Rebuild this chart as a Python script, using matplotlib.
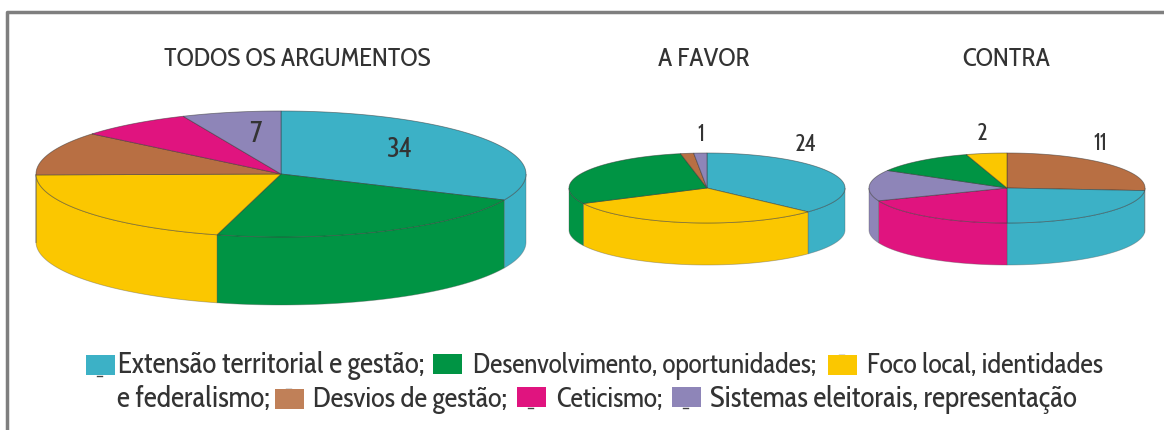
import numpy as np
import matplotlib
matplotlib.use("Agg")
import matplotlib.pyplot as plt
from matplotlib.patches import Polygon, Rectangle

plt.rcParams["font.family"] = ["Cabin Condensed", "Archivo Narrow", "Liberation Sans", "DejaVu Sans"]

teal = "#3CB1C6"
green = "#009444"
yellow = "#FBC700"
brown = "#B86F43"
magenta = "#E0147F"
purple = "#8E85B8"

# values clockwise from the top
todos_vals = [34, 24, 22, 12, 8, 7]
todos_cols = [teal, green, yellow, brown, magenta, purple]
favor_vals = [24, 20, 19, 1, 1]
favor_cols = [teal, yellow, green, brown, purple]
contra_vals = [11, 10, 8, 6, 5, 2]
contra_cols = [brown, teal, magenta, purple, green, yellow]

titles = ["TODOS OS ARGUMENTOS", "A FAVOR", "CONTRA"]
text_col = "#333333"


def pie3d(ax, vals, cols, cx, cy, rx, ry, depth):
    edges = np.cumsum([0] + vals) / sum(vals) * 2 * np.pi
    # side wall first, only the front half shows
    for i, c in enumerate(cols):
        a0 = max(edges[i], np.pi / 2)
        a1 = min(edges[i + 1], 3 * np.pi / 2)
        if a1 <= a0:
            continue
        t = np.linspace(a0, a1, 80)
        x = cx + rx * np.sin(t)
        y = cy - ry * np.cos(t)
        pts = np.r_[np.c_[x, y], np.c_[x[::-1], y[::-1] + depth]]
        ax.add_patch(Polygon(pts, closed=True, fc=c, ec="#55555566", lw=0.6, zorder=2))
    for i, c in enumerate(cols):
        t = np.linspace(edges[i], edges[i + 1], 120)
        x = cx + rx * np.sin(t)
        y = cy - ry * np.cos(t)
        pts = np.r_[[[cx, cy]], np.c_[x, y]]
        ax.add_patch(Polygon(pts, closed=True, fc=c, ec="#33333388", lw=0.6, zorder=3))


fig = plt.figure(figsize=(11.64, 4.30), dpi=100)
ax = fig.add_axes([0, 0, 1, 1])
ax.set_xlim(0, 1164)
ax.set_ylim(430, 0)
ax.axis("off")

# frame: only left and top
ax.plot([7, 7, 1164], [430, 11.5, 11.5], color="#7F7F7F", lw=2.5, zorder=1)

pie3d(ax, todos_vals, todos_cols, 281, 174, 245, 63, 68)
pie3d(ax, favor_vals, favor_cols, 707, 188, 138, 35, 42)
pie3d(ax, contra_vals, contra_cols, 1007, 188, 138, 35, 42)

for s, x in zip(titles, [297, 704, 1006]):
    ax.text(x, 59, s, ha="center", va="center", fontsize=19, color=text_col)

for s, x, y, fs in [("34", 399, 150, 20), ("7", 255, 134, 21), ("24", 806, 145, 17),
                    ("1", 701, 135, 17), ("2", 982, 134, 17), ("11", 1100, 144, 17)]:
    ax.text(x, y, s, ha="center", va="center", fontsize=fs, color=text_col, zorder=5)

# swatch x, swatch y, colour, text x, text y, label, font size, notch side
legend = [
    (86, 355, teal, 118, 366, "Extensão territorial e gestão;", 21, "bottom"),
    (433, 354, green, 473, 366, "Desenvolvimento, oportunidades;", 19.8, None),
    (828, 355, yellow, 867, 366, "Foco local, identidades", 20.2, "top"),
    (None, 0, None, 117, 400, "e federalismo;", 21, None),
    (275, 389, "#C08058", 313, 400, "Desvios de gestão;", 20.5, "top"),
    (517, 387, magenta, 556, 400, "Ceticismo;", 20, "bottom"),
    (672, 387, purple, 710, 400, "Sistemas eleitorais, representação", 21, "bottom"),
]
for sx, sy, c, tx, ty, s, fs, notch in legend:
    if c is not None:
        ax.add_patch(Rectangle((sx, sy), 29, 20, fc=c, ec="none", zorder=4))
        if notch is not None:
            ny = sy + 20.5 if notch == "bottom" else sy - 0.5
            ax.plot([sx + 11, sx + 16], [ny, ny], color="#444444", lw=1, zorder=3)
    ax.text(tx, ty, s, ha="left", va="center", fontsize=fs, color=text_col)

fig.savefig("out.png", dpi=100)
